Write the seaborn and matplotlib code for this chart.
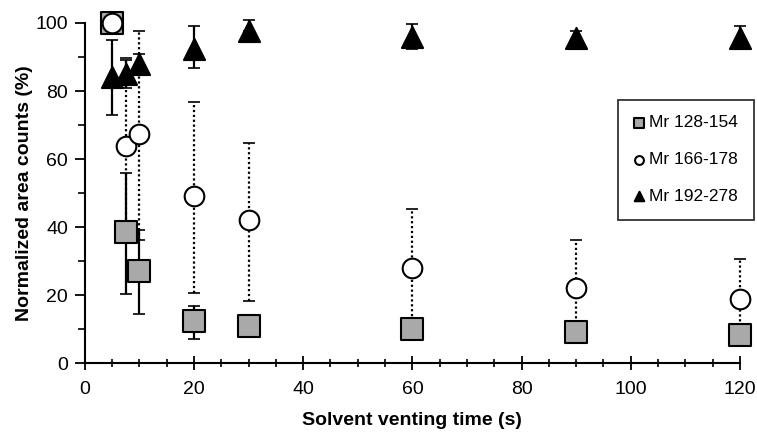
import matplotlib
matplotlib.use("Agg")
import matplotlib.pyplot as plt
from matplotlib.ticker import MultipleLocator
import numpy as np
import pandas as pd
import seaborn as sns

# venting times (s)
times = [5, 7.5, 10, 20, 30, 60, 90, 120]

# Mr 128-154
sq_mean = [100, 38.5, 27, 12.5, 10.8, 10, 9.2, 8.3]
sq_low = [100, 20.2, 14.3, 7.2, 7.8, 10, 5.8, 8.3]
sq_high = [100, 55.8, 39, 16.8, 10.8, 10, 9.2, 8.3]

# Mr 166-178
ci_mean = [100, 63.8, 67.3, 49, 42, 28, 22, 18.8]
ci_low = [100, 38, 36.2, 20.5, 18.3, 10.8, 7.4, 6.5]
ci_high = [100, 89.6, 97.7, 76.9, 64.8, 45.2, 36.2, 30.5]

# Mr 192-278
tr_mean = [84, 85, 88, 92.5, 97.5, 96, 95.5, 95.5]
tr_low = [73, 81, 85, 86.7, 97.5, 92.5, 95, 94.5]
tr_high = [95, 89, 91, 99, 101, 99.6, 97.5, 99]

labels = ["Mr 128-154", "Mr 166-178", "Mr 192-278"]

sns.set_style("ticks")
plt.rcParams["font.family"] = ["Liberation Sans", "DejaVu Sans"]
plt.rcParams["text.color"] = "black"
plt.rcParams["axes.labelcolor"] = "black"
plt.rcParams["xtick.color"] = "black"
plt.rcParams["ytick.color"] = "black"

fig = plt.figure(figsize=(7.57, 4.38), dpi=100)
ax = fig.add_axes([0.112, 0.171, 0.8655, 0.7765])

df = pd.DataFrame({
    "time": times * 3,
    "value": sq_mean + ci_mean + tr_mean,
    "group": [labels[0]] * 8 + [labels[1]] * 8 + [labels[2]] * 8,
})

series = [
    (sq_mean, sq_low, sq_high, "-"),
    (ci_mean, ci_low, ci_high, (0, (1, 1.2))),
    (tr_mean, tr_low, tr_high, "-"),
]
for mean, low, high, ls in series:
    m = np.array(mean)
    err = [m - np.array(low), np.array(high) - m]
    eb = ax.errorbar(times, mean, yerr=err, fmt="none", ecolor="black",
                     elinewidth=1.6, capsize=4, capthick=1.2, zorder=2,
                     clip_on=False)
    eb[2][0].set_linestyle(ls)

styles = {
    labels[0]: dict(marker="s", s=260, color="#a9a9a9"),
    labels[1]: dict(marker="o", s=200, color="white"),
    labels[2]: dict(marker="^", s=230, color="black"),
}
for i, lab in enumerate(labels):
    st = styles[lab]
    sns.scatterplot(data=df[df["group"] == lab], x="time", y="value",
                    marker=st["marker"], s=st["s"], color=st["color"],
                    edgecolor="black", linewidth=1.5, ax=ax, zorder=3 + i,
                    clip_on=False, label=lab)

ax.set_xlim(0, 120)
ax.set_ylim(0, 100)
ax.xaxis.set_major_locator(MultipleLocator(20))
ax.xaxis.set_minor_locator(MultipleLocator(5))
ax.yaxis.set_major_locator(MultipleLocator(20))
ax.yaxis.set_minor_locator(MultipleLocator(10))
ax.tick_params(axis="x", which="major", direction="inout", length=10, width=1.3,
               labelsize=14, pad=8)
ax.tick_params(axis="x", which="minor", direction="inout", length=6, width=1.2)
ax.tick_params(axis="y", which="major", direction="out", length=7, width=1.3,
               labelsize=14, pad=5)
ax.tick_params(axis="y", which="minor", direction="out", length=5, width=1.2)
sns.despine(ax=ax)
for sp in ["left", "bottom"]:
    ax.spines[sp].set_linewidth(1.5)
    ax.spines[sp].set_color("black")

ax.set_xlabel("Solvent venting time (s)", fontsize=14, fontweight="bold", labelpad=10)
ax.set_ylabel("Normalized area counts (%)", fontsize=14, fontweight="bold", labelpad=2)

leg = ax.legend(loc="upper left", bbox_to_anchor=(0.814, 0.775), fontsize=12.5,
                frameon=True, fancybox=False, edgecolor="black", markerscale=0.45,
                handlelength=0.6, handletextpad=0.3, labelspacing=1.25,
                borderpad=0.9, borderaxespad=0)
leg.get_frame().set_linewidth(1.3)
leg.set_zorder(10)

fig.savefig("out.png", dpi=100)
